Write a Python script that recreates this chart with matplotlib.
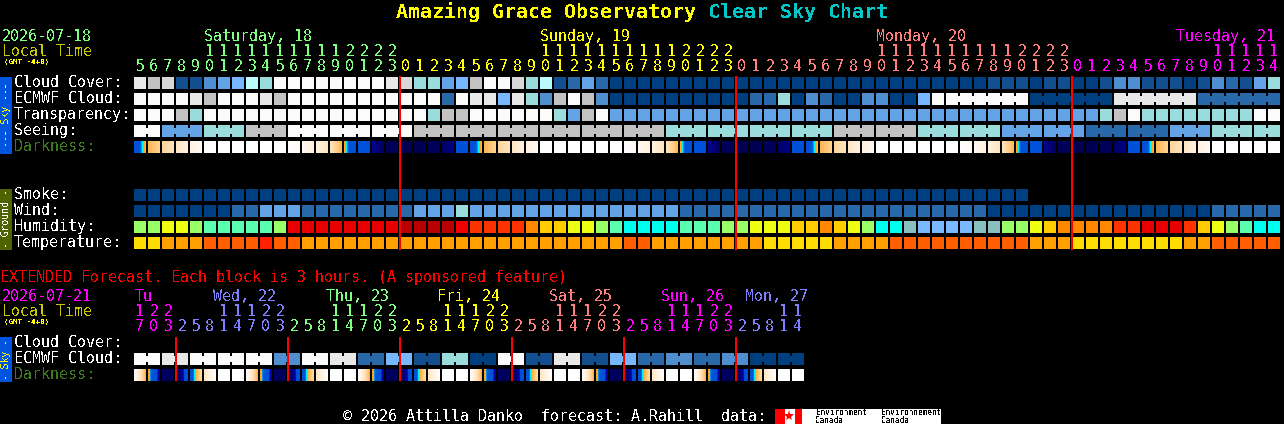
import numpy as np
import matplotlib
matplotlib.use("Agg")
import matplotlib.pyplot as plt
from matplotlib.colors import LinearSegmentedColormap

# hours of the main chart, one per column
hours = [5, 6, 7, 8, 9, 10, 11, 12, 13, 14, 15, 16, 17, 18, 19, 20, 21, 22, 23,
         0, 1, 2, 3, 4, 5, 6, 7, 8, 9, 10, 11, 12, 13, 14, 15, 16, 17, 18, 19, 20, 21, 22, 23,
         0, 1, 2, 3, 4, 5, 6, 7, 8, 9, 10, 11, 12, 13, 14, 15, 16, 17, 18, 19, 20, 21, 22, 23,
         0, 1, 2, 3, 4, 5, 6, 7, 8, 9, 10, 11, 12, 13, 14]
hour_days = [19, 24, 24, 15]
hour_colors = ["#7fff7f", "#ffff00", "#ff7f7f", "#ff00ff"]
day_names = ["Saturday, 18", "Sunday, 19", "Monday, 20", "Tuesday, 21"]
day_x = [204, 540, 876, 1176]

# sky rows, index into sky_palette
cloud = [10, 8, 9, 1, 1, 3, 4, 5, 7, 6,
         11, 11, 11, 11, 11, 11, 11, 11, 10, 9,
         6, 6, 4, 5, 8, 11, 11, 9, 6, 7,
         1, 2, 4, 2, 0, 0, 0, 0, 0, 0,
         0, 0, 0, 0, 0, 0, 0, 0, 0, 0,
         0, 0, 0, 0, 0, 0, 0, 0, 0, 0,
         0, 1, 1, 1, 0, 1, 1, 0, 0, 1,
         3, 3, 1, 1, 1, 0, 1, 3, 2, 1,
         4, 6]
ecmwf = [11, 11, 11, 11, 10, 8, 11, 11, 11, 10,
         8, 11, 11, 11, 11, 11, 11, 11, 11, 11,
         11, 11, 2, 11, 10, 10, 5, 10, 6, 3,
         8, 11, 8, 3, 0, 0, 0, 0, 0, 0,
         0, 0, 0, 0, 2, 2, 6, 0, 3, 2,
         0, 0, 3, 3, 0, 0, 5, 11,
         11, 0, 10, 2]
ecmwf_sizes = [1] * 58 + [6, 6, 6, 6]
transparency = [11, 11, 11, 8, 6, 11, 11, 11, 11, 11,
                11, 11, 11, 11, 11, 11, 11, 11, 11, 11,
                11, 6, 8, 8, 11, 11, 11, 11, 11, 11,
                6, 4, 8, 11, 4, 4, 4, 4, 4, 4,
                4, 4, 4, 4, 4, 4, 4, 4, 4, 4,
                4, 4, 4, 4, 4, 4, 4, 4, 4, 4,
                4, 4, 4, 4, 4, 4, 4, 4, 4, 6,
                8, 11, 6, 6, 6, 6, 6, 6, 6, 6,
                11, 11]
seeing = [11, 4, 6, 8, 11, 11, 11, 8, 8, 8, 8, 8, 8, 6, 6, 6, 6, 8, 8, 6, 6, 4, 4, 2, 2, 4, 6, 6]
seeing_sizes = [2, 3, 3, 3, 3, 3, 3, 3, 3, 3, 3, 3, 3, 3, 3, 3, 3, 3, 3, 3, 3, 3, 3, 3, 3, 3, 3, 2]

# darkness at the left and right side of every column, 0 is daylight, 1 is full dark
dark_left = [.66, .43, .33, .23, .13, 0, 0, 0, 0, 0, 0, 0, .06, .15, .25, .46, .70, .80, .93, .98, .98, .97, .92, .72,
             .66, .43, .33, .23, .13, 0, 0, 0, 0, 0, 0, 0, .06, .15, .25, .46, .70, .80, .93, .98, .98, .97, .92, .72,
             .66, .43, .33, .23, .13, 0, 0, 0, 0, 0, 0, 0, .06, .15, .25, .46, .70, .80, .93, .98, .98, .97, .92, .72,
             .66, .43, .33, .23, .13, 0, 0, 0, 0, 0]
dark_right = [.44, .34, .24, .14, .05, 0, 0, 0, 0, 0, 0, .05, .14, .24, .43, .70, .72, .92, .97, .98, .98, .93, .80, .70,
              .44, .34, .24, .14, .05, 0, 0, 0, 0, 0, 0, .05, .14, .24, .43, .70, .72, .92, .97, .98, .98, .93, .80, .70,
              .44, .34, .24, .14, .05, 0, 0, 0, 0, 0, 0, .05, .14, .24, .43, .70, .72, .92, .97, .98, .98, .93, .80, .70,
              .44, .34, .24, .14, .05, 0, 0, 0, 0, 0]

# ground rows
smoke = [0] * 64
wind = [0, 0, 0, 0, 0, 0, 0, 2, 2, 4,
        4, 4, 2, 2, 2, 2, 2, 2, 2, 2,
        4, 4, 4, 6, 4, 4, 4, 4, 4, 4,
        4, 4, 4, 4, 4, 4, 4, 4, 4, 2,
        2, 2, 2, 2, 2, 2, 2, 2, 2, 2,
        2, 2, 2, 2, 2, 2, 2, 2, 2, 2,
        2, 0, 0, 0, 0, 0, 0, 0, 0, 0,
        0, 0, 0, 0, 0, 0, 0, 2, 2, 2,
        2, 2]
humidity = [4, 4, 5, 5, 4, 3, 3, 3, 3, 3,
            4, 10, 10, 10, 10, 10, 10, 10, 10, 11,
            11, 11, 11, 9, 8, 8, 8, 8, 7, 6,
            6, 5, 5, 4, 3, 2, 2, 2, 2, 3,
            3, 3, 4, 4, 5, 5, 5, 6, 6, 7,
            6, 5, 4, 2, 2, 1, 0, 0, 0, 0,
            1, 1, 4, 4, 5, 6, 7, 7, 7, 7,
            8, 8, 10, 10, 10, 8, 6, 5, 4, 3,
            2, 2]
humidity_palette = ["#7ab8ff", "#88c0c0", "#00ffee", "#5cffb0", "#99ff66", "#eeff11",
                    "#ffcc00", "#ff8800", "#ff3300", "#f00000", "#e60000", "#b80000"]
temperature = [0, 0, 1, 1, 1, 2, 2, 2, 2, 3,
               2, 2, 1, 1, 1, 1, 1, 1, 1, 1,
               1, 1, 1, 1, 1, 1, 1, 1, 1, 1,
               1, 1, 1, 1, 1, 2, 2, 1, 1, 1,
               1, 1, 1, 1, 1, 0, 0, 0, 0, 0,
               1, 1, 1, 1, 2, 2, 2, 2, 2, 2,
               2, 2, 2, 2, 1, 1, 1, 0, 0, 0,
               0, 0, 0, 0, 0, 1, 1, 2, 2, 2,
               2, 2]
temperature_palette = ["#ffdd00", "#ffa000", "#ff5f00", "#ff2000"]

sky_palette = ["#003f7f", "#134f8f", "#2a69a9", "#4f8fd0", "#63a3e6", "#77b7ff",
               "#9adcdc", "#b9fbff", "#c2c2c2", "#d8d8d8", "#e8e8e8", "#fbfbfb"]

# extended forecast, 3 hour blocks
ext_hours = [17, 20, 23,
             2, 5, 8, 11, 14, 17, 20, 23,
             2, 5, 8, 11, 14, 17, 20, 23,
             2, 5, 8, 11, 14, 17, 20, 23,
             2, 5, 8, 11, 14, 17, 20, 23,
             2, 5, 8, 11, 14, 17, 20, 23,
             2, 5, 8, 11, 14]
ext_days = [3, 8, 8, 8, 8, 8, 5]
ext_colors = ["#ff00ff", "#7f7fff", "#7fff7f", "#ffff00", "#ff7f7f", "#ff00ff", "#7f7fff"]
ext_names = ["Tu", "Wed, 22", "Thu, 23", "Fri, 24", "Sat, 25", "Sun, 26", "Mon, 27"]
ext_x = [135, 213, 326, 437, 549, 661, 745]
ext_ecmwf = [11, 10, 11, 11, 11, 3, 11, 10, 2, 5, 1, 6, 0, 11, 1, 10, 1, 5, 2, 3, 2, 3, 0, 0]
ext_dark_left = [.02, .46, .90, .95, .62, .22, 0, 0,
                 .02, .46, .90, .95, .62, .22, 0, 0,
                 .02, .46, .90, .95, .62, .22, 0, 0,
                 .02, .46, .90, .95, .62, .22, 0, 0,
                 .02, .46, .90, .95, .62, .22, 0, 0,
                 .02, .46, .90, .95, .62, .22, 0, 0]
ext_dark_right = [.43, .80, .97, .64, .30, .02, 0, 0,
                  .43, .80, .97, .64, .30, .02, 0, 0,
                  .43, .80, .97, .64, .30, .02, 0, 0,
                  .43, .80, .97, .64, .30, .02, 0, 0,
                  .43, .80, .97, .64, .30, .02, 0, 0,
                  .43, .80, .97, .64, .30, .02, 0, 0]

dark_cmap = LinearSegmentedColormap.from_list("dark", [
    (0, "#ffffff"), (.05, "#fffaf2"), (.15, "#fff0dc"), (.25, "#ffe4bc"), (.35, "#ffcf8e"),
    (.43, "#ffb650"), (.46, "#ffa820"), (.48, "#c8b040"), (.50, "#00ffff"), (.53, "#0a70e8"),
    (.56, "#0050d8"), (.72, "#0050d8"), (.76, "#0000a8"), (.85, "#000078"), (.92, "#000060"),
    (1, "#000050")], N=512)

X0 = 134
PITCH = 14
SIZE = 12
MONO = "DejaVu Sans Mono"
plt.rcParams["text.antialiased"] = False

fig = plt.figure(figsize=(12.84, 4.24), dpi=100, facecolor="black")
ax = fig.add_axes([0, 0, 1, 1])
ax.axis("off")


def row(values, y, palette, sizes=None):
    if sizes is None:
        sizes = [1] * len(values)
    col = 0
    for v, n in zip(values, sizes):
        xs = [X0 + PITCH * (col + k) for k in range(n)]
        ax.bar(xs, SIZE, width=SIZE, bottom=y, align="edge", color=palette[v], antialiased=False)
        # blocks of one forecast are tied together with a short bridge
        if n > 1:
            ax.bar([x + SIZE for x in xs[:-1]], SIZE - 6, width=PITCH - SIZE, bottom=y + 3,
                   align="edge", color=palette[v], antialiased=False)
        col += n


def dark_row(left, right, y):
    for i in range(len(left)):
        x = X0 + PITCH * i
        ax.imshow([np.linspace(left[i], right[i], SIZE)], extent=(x, x + SIZE, y + SIZE, y),
                  cmap=dark_cmap, vmin=0, vmax=1, interpolation="nearest", aspect="auto")


def label(x, y, s, color="white", size=10.8, **kw):
    ax.text(x, y, s, color=color, fontsize=size, family=MONO, va="baseline", **kw)


def hour_digits(hrs, days, colors, y_tens, y_ones):
    col = 0
    for n, c in zip(days, colors):
        for h in hrs[col:col + n]:
            x = X0 + PITCH * col + SIZE / 2
            if h >= 10:
                label(x, y_tens, str(h // 10), c, ha="center")
            label(x, y_ones, str(h % 10), c, ha="center")
            col += 1


def red_lines(xs, top, bottom):
    ax.bar([x - 1 for x in xs], bottom - top, width=2, bottom=top, align="edge",
           color="#ff0000", antialiased=False, zorder=3)


# title
label(396, 18, "Amazing Grace Observatory", "#ffff00", 14.35, weight="bold")
label(708, 18, "Clear Sky Chart", "#00c8c8", 14.35, weight="bold")

# header of the main chart
label(2, 41, "2026-07-18", hour_colors[0])
label(2, 56, "Local Time", "#c8c800")
label(4, 64, "(GMT -4+0)", "#ffff00", 5.4, weight="bold")
for x, name, c in zip(day_x, day_names, hour_colors):
    label(x, 41, name, c)
hour_digits(hours, hour_days, hour_colors, 56, 71)

# side bars
ax.bar(0, 77, width=12, bottom=77, align="edge", color="#0055e0", antialiased=False)
ax.bar(0, 61, width=12, bottom=189, align="edge", color="#4f6400", antialiased=False)
ax.bar(0, 45, width=12, bottom=337, align="edge", color="#0055e0", antialiased=False)
ax.text(6, 115, "--- Sky ---", color="#ffff00", fontsize=7, family=MONO, rotation=90, ha="center", va="center")
ax.text(6, 219, "- Ground -", color="white", fontsize=7, family=MONO, rotation=90, ha="center", va="center")
ax.text(6, 359, "- Sky -", color="#ffff00", fontsize=7, family=MONO, rotation=90, ha="center", va="center")

# main sky rows
label(14, 87, "Cloud Cover:")
label(14, 103, "ECMWF Cloud:")
label(14, 119, "Transparency:")
label(14, 135, "Seeing:")
label(14, 151, "Darkness:", "#3d7a1f")
row(cloud, 77, sky_palette)
row(ecmwf, 93, sky_palette, ecmwf_sizes)
row(transparency, 109, sky_palette)
row(seeing, 125, sky_palette, seeing_sizes)
dark_row(dark_left, dark_right, 141)

# ground rows
label(14, 199, "Smoke:")
label(14, 215, "Wind:")
label(14, 231, "Humidity:")
label(14, 247, "Temperature:")
row(smoke, 189, sky_palette)
row(wind, 205, sky_palette)
row(humidity, 221, humidity_palette)
row(temperature, 237, temperature_palette)

# midnight lines
red_lines([400, 736, 1072], 76, 250)

# extended forecast
label(0, 282, "EXTENDED Forecast. Each block is 3 hours. (A sponsored feature)", "#ff0000")
label(2, 301, "2026-07-21", "#ff00ff")
label(2, 316, "Local Time", "#c8c800")
label(4, 324, "(GMT -4+0)", "#ffff00", 5.4, weight="bold")
for x, name, c in zip(ext_x, ext_names, ext_colors):
    label(x, 301, name, c)
hour_digits(ext_hours, ext_days, ext_colors, 316, 331)
label(14, 347, "Cloud Cover:")
label(14, 363, "ECMWF Cloud:")
label(14, 379, "Darkness:", "#3d7a1f")
row(ext_ecmwf, 353, sky_palette, [2] * 24)
dark_row(ext_dark_left, ext_dark_right, 369)
red_lines([176, 288, 400, 512, 624, 736], 337, 381)

# footer and logo
label(343, 421, "\u00a9 2026 Attilla Danko  forecast: A.Rahill  data:")
ax.bar(775, 15, width=166, bottom=409, align="edge", color="white", antialiased=False)
ax.bar([775, 795], 15, width=[10, 7], bottom=409, align="edge", color="#ff0000", antialiased=False)
ax.plot(789, 416, marker="*", color="#ff0000", markersize=8, markeredgewidth=0)
label(816, 415, "Environment", "black", 5.6)
label(816, 423, "Canada", "black", 5.6)
label(881, 415, "Environnement", "black", 5.6)
label(881, 423, "Canada", "black", 5.6)

ax.set_xlim(0, 1284)
ax.set_ylim(424, 0)
fig.savefig("out.png", dpi=100, facecolor="black")
